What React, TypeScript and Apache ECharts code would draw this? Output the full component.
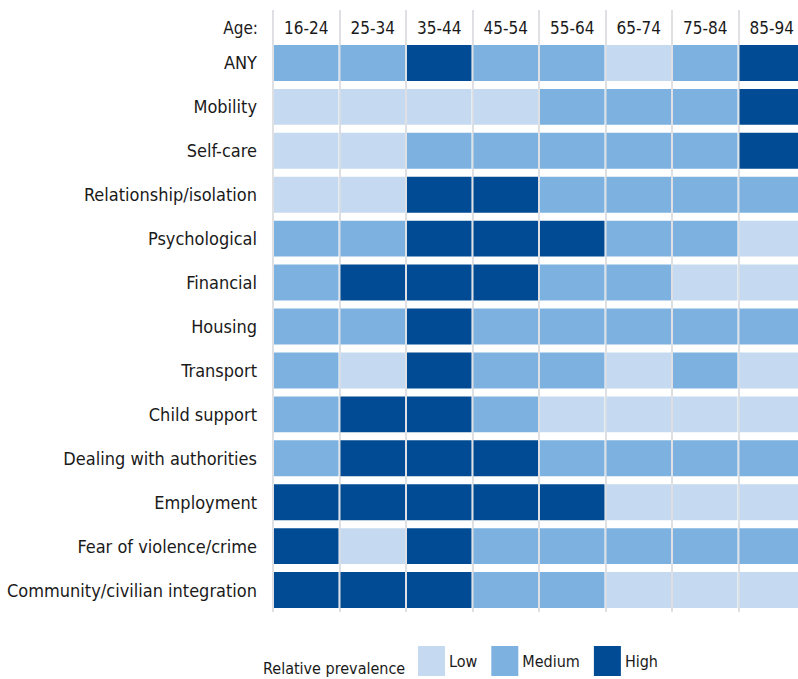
import React, { useEffect, useRef } from "react";
import * as echarts from "echarts";

const ageGroups = ["16-24", "25-34", "35-44", "45-54", "55-64", "65-74", "75-84", "85-94"];
const needs = [
  "ANY",
  "Mobility",
  "Self-care",
  "Relationship/isolation",
  "Psychological",
  "Financial",
  "Housing",
  "Transport",
  "Child support",
  "Dealing with authorities",
  "Employment",
  "Fear of violence/crime",
  "Community/civilian integration",
];
const levelNames = ["Low", "Medium", "High"];
const levelColors = ["#C5DAF0", "#7DB2E0", "#004B93"];

// 1 = Low, 2 = Medium, 3 = High ; one value per age group
const anyNeed = [2, 2, 3, 2, 2, 1, 2, 3];
const mobility = [1, 1, 1, 1, 2, 2, 2, 3];
const selfCare = [1, 1, 2, 2, 2, 2, 2, 3];
const relationship = [1, 1, 3, 3, 2, 2, 2, 2];
const psychological = [2, 2, 3, 3, 3, 2, 2, 1];
const financial = [2, 3, 3, 3, 2, 2, 1, 1];
const housing = [2, 2, 3, 2, 2, 2, 2, 2];
const transport = [2, 1, 3, 2, 2, 1, 2, 1];
const childSupport = [2, 3, 3, 2, 1, 1, 1, 1];
const authorities = [2, 3, 3, 3, 2, 2, 2, 2];
const employment = [3, 3, 3, 3, 3, 1, 1, 1];
const fearViolence = [3, 1, 3, 2, 2, 2, 2, 2];
const community = [3, 3, 3, 2, 2, 1, 1, 1];

const rows = [
  anyNeed,
  mobility,
  selfCare,
  relationship,
  psychological,
  financial,
  housing,
  transport,
  childSupport,
  authorities,
  employment,
  fearViolence,
  community,
];

const FONT = "'DejaVu Sans Condensed', 'Liberation Sans Narrow', sans-serif";
const GRID = "#D3D6DA";
const TXT = "#1a1a1a";

export default function App() {
  const ref = useRef<HTMLDivElement>(null);
  useEffect(() => {
    document.body.style.margin = "0";
    if (!ref.current) return;
    const chart = echarts.init(ref.current, undefined, { renderer: "svg" });
    const data: number[][] = [];
    rows.forEach((row, y) => row.forEach((v, x) => data.push([x, y, v])));

    chart.setOption({
      animation: false,
      textStyle: { fontFamily: FONT },
      grid: {
        left: 273,
        top: 41,
        width: 532,
        height: 571,
        containLabel: false,
        outerBoundsMode: "none",
      },
      xAxis: {
        type: "category",
        data: ageGroups,
        position: "top",
        axisLine: { show: false },
        axisTick: { show: true, interval: 0, length: 31, lineStyle: { color: GRID, width: 1.5 } },
        axisLabel: { interval: 0, fontSize: 17, color: TXT, margin: 5, fontFamily: FONT },
        splitLine: { show: true, interval: 0, lineStyle: { color: GRID, width: 1.5 } },
      },
      yAxis: {
        type: "category",
        data: needs,
        inverse: true,
        axisLine: { show: false },
        axisTick: { show: false },
        axisLabel: { interval: 0, fontSize: 18, color: TXT, margin: 16, fontFamily: FONT },
        splitLine: { show: false },
      },
      visualMap: {
        type: "piecewise",
        seriesIndex: 0,
        dimension: 2,
        orient: "horizontal",
        left: 418,
        top: 646,
        padding: 0,
        itemWidth: 27,
        itemHeight: 30,
        itemGap: 14,
        textGap: 4,
        itemSymbol: "rect",
        selectedMode: false,
        hoverLink: false,
        pieces: levelNames.map((name, i) => ({ value: i + 1, label: name, color: levelColors[i] })),
        textStyle: { fontSize: 16, color: TXT, fontFamily: FONT, padding: [12, 0, 0, 0] },
      },
      graphic: [
        {
          type: "text",
          x: 258,
          y: 28,
          style: {
            text: "Age:",
            align: "right",
            verticalAlign: "middle",
            fontSize: 17,
            fill: TXT,
            fontFamily: FONT,
          },
        },
        {
          type: "text",
          x: 263,
          y: 668,
          style: {
            text: "Relative prevalence",
            align: "left",
            verticalAlign: "middle",
            fontSize: 16,
            fill: TXT,
            fontFamily: FONT,
          },
        },
      ],
      series: [
        {
          type: "custom",
          encode: { x: 0, y: 1 },
          data,
          renderItem: (params: any, api: any) => {
            const c = api.coord([api.value(0), api.value(1)]);
            const s = api.size([1, 1]);
            const w = s[0] - 2;
            const h = s[1] - 8;
            return {
              type: "rect",
              shape: { x: c[0] - w / 2, y: c[1] - h / 2, width: w, height: h },
              style: { fill: api.visual("color") },
            };
          },
        },
      ],
    });
    return () => chart.dispose();
  }, []);
  return <div ref={ref} style={{ width: 798, height: 679 }} />;
}
